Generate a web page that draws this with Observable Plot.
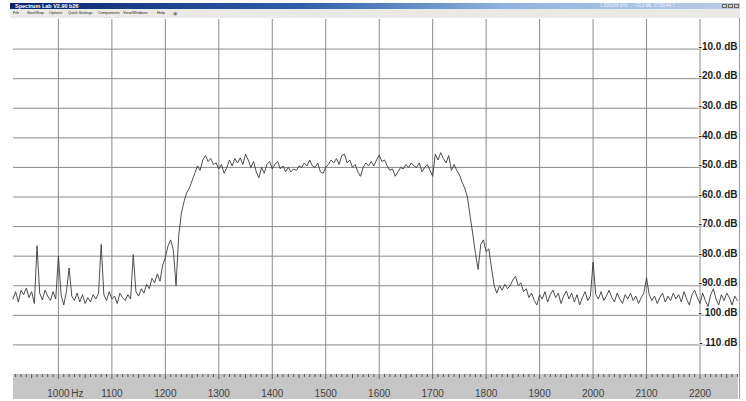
<!DOCTYPE html>
<html>
<head>
<meta charset="utf-8">
<script src="https://cdn.jsdelivr.net/npm/d3@7"></script>
<script src="https://cdn.jsdelivr.net/npm/@observablehq/plot@0.6"></script>
<style>
  html, body { margin: 0; padding: 0; background: #fff; }
  #win { position: relative; width: 746px; height: 401px; overflow: hidden; background: #fff; font-family: "Liberation Sans", Arial, sans-serif; }
  #titlebar { position: absolute; left: 10px; top: 3px; width: 730px; height: 6px;
    background: linear-gradient(to right, #0a246a 0%, #2f5fa8 40%, #8fb4e0 68%, #b9cde6 100%);
    color: #fff; font: bold 5.5px "Liberation Sans", Arial, sans-serif; line-height: 6px; white-space: nowrap; }
  #titlebar .t { position: absolute; left: 5px; top: 0; }
  #titlebar .s { position: absolute; left: 590px; top: 0; color: #eef3fa; font-weight: normal; font-size: 4.5px; }
  #titlebar .b { position: absolute; top: 1px; width: 5px; height: 4px; background: #d4d0c8; border: 0.5px solid #666; box-sizing: border-box; }
  #menubar { position: absolute; left: 10px; top: 9px; width: 730px; height: 9px; background: #ebe9e3;
    font: 3.8px "Liberation Sans", Arial, sans-serif; line-height: 9px; color: #222; white-space: nowrap; }
  #menubar span { position: absolute; top: 0; }
  #chart { position: absolute; left: 0; top: 18px; width: 746px; height: 383px; }
  #strip { position: absolute; left: 13px; top: 356px; width: 725px; height: 25px; background: #c6c6c6; }
  #rborder { position: absolute; left: 739px; top: 0; width: 1px; height: 381px; background: #9a9a9a; }
  #plot { position: absolute; left: 0; top: 0; }
</style>
</head>
<body>
<div id="win">
  <div id="titlebar">
    <span class="t">Spectrum Lab V2.90 b26</span>
    <span class="s">1.000048 kHz ... -73.2 dB, 17:00:44.7</span>
    <span class="b" style="left:712px"></span><span class="b" style="left:718px"></span><span class="b" style="left:724px"></span>
  </div>
  <div id="menubar">
    <span style="left:3px">File</span>
    <span style="left:17px">Start/Stop</span>
    <span style="left:39px">Options</span>
    <span style="left:58px">Quick Settings</span>
    <span style="left:88px">Components</span>
    <span style="left:113px">View/Windows</span>
    <span style="left:147px">Help</span>
    <span style="left:163px;color:#777;font-size:5px">&#9673;</span>
  </div>
  <div id="chart">
    <div id="strip"></div>
    <div id="plot"></div>
    <div id="rborder"></div>
  </div>
</div>
<script>
// ---- Data (frequency in Hz, level in dB) ----
const freqHz = [
  915, 920, 925, 930, 935, 940, 945, 950, 955, 960,
  965, 970, 975, 980, 985, 990, 995, 1000, 1005, 1010,
  1015, 1020, 1025, 1030, 1035, 1040, 1045, 1050, 1055, 1060,
  1065, 1070, 1075, 1080, 1085, 1090, 1095, 1100, 1105, 1110,
  1115, 1120, 1125, 1130, 1135, 1140, 1145, 1150, 1155, 1160,
  1165, 1170, 1175, 1180, 1185, 1190, 1195, 1200, 1205, 1210,
  1215, 1220, 1225, 1230, 1235, 1240, 1245, 1250, 1255, 1260,
  1265, 1270, 1275, 1280, 1285, 1290, 1295, 1300, 1305, 1310,
  1315, 1320, 1325, 1330, 1335, 1340, 1345, 1350, 1355, 1360,
  1365, 1370, 1375, 1380, 1385, 1390, 1395, 1400, 1405, 1410,
  1415, 1420, 1425, 1430, 1435, 1440, 1445, 1450, 1455, 1460,
  1465, 1470, 1475, 1480, 1485, 1490, 1495, 1500, 1505, 1510,
  1515, 1520, 1525, 1530, 1535, 1540, 1545, 1550, 1555, 1560,
  1565, 1570, 1575, 1580, 1585, 1590, 1595, 1600, 1605, 1610,
  1615, 1620, 1625, 1630, 1635, 1640, 1645, 1650, 1655, 1660,
  1665, 1670, 1675, 1680, 1685, 1690, 1695, 1700, 1705, 1710,
  1715, 1720, 1725, 1730, 1735, 1740, 1745, 1750, 1755, 1760,
  1765, 1770, 1775, 1780, 1785, 1790, 1795, 1800, 1805, 1810,
  1815, 1820, 1825, 1830, 1835, 1840, 1845, 1850, 1855, 1860,
  1865, 1870, 1875, 1880, 1885, 1890, 1895, 1900, 1905, 1910,
  1915, 1920, 1925, 1930, 1935, 1940, 1945, 1950, 1955, 1960,
  1965, 1970, 1975, 1980, 1985, 1990, 1995, 2000, 2005, 2010,
  2015, 2020, 2025, 2030, 2035, 2040, 2045, 2050, 2055, 2060,
  2065, 2070, 2075, 2080, 2085, 2090, 2095, 2100, 2105, 2110,
  2115, 2120, 2125, 2130, 2135, 2140, 2145, 2150, 2155, 2160,
  2165, 2170, 2175, 2180, 2185, 2190, 2195, 2200, 2205, 2210,
  2215, 2220, 2225, 2230, 2235, 2240, 2245, 2250, 2255, 2260,
  2265, 2270
];
const levelDb = [
  -94.5, -92, -95.5, -91.5, -93, -90.8, -94, -92, -96, -76.5,
  -92.5, -94.8, -91.5, -93.5, -95, -92, -94.5, -80, -93, -96.5,
  -92, -84, -93.5, -95, -92.5, -95.5, -93, -96, -94, -95.5,
  -93, -94.5, -92.5, -76, -93, -95, -92, -94.5, -93.5, -96,
  -92.5, -94, -95, -93, -94.5, -79.5, -92, -93.5, -91, -92.5,
  -89.5, -91, -87.5, -89, -86, -88.5, -83, -80.5, -76.5, -74.5,
  -78, -90, -73, -65.5, -61.5, -58.5, -57, -54.5, -52, -49.5,
  -51, -47.5, -46, -48, -47, -49, -48.5, -50.5, -49, -52,
  -50, -47.5, -49.5, -47, -48.5, -46.8, -49, -45.5, -47.5, -50,
  -48, -51.5, -53.5, -50, -52, -49, -48, -50.5, -49, -48,
  -50.5, -49.5, -51.5, -50, -51.5, -50.5, -51, -49.5, -50, -48.5,
  -49.5, -47.5, -49.5, -50, -48.5, -51.5, -52, -50, -49, -47.5,
  -48.5, -47, -49, -46, -45.5, -48.5, -47.5, -50, -49, -51.5,
  -53, -50, -48.5, -49.5, -48, -49.5, -47.5, -45.8, -48, -47.5,
  -49.5, -51, -50.5, -53, -51.5, -50, -50.5, -49, -50, -48.5,
  -49.5, -50, -48.5, -51.5, -50, -49, -51, -53, -45.5, -47.5,
  -45, -47, -48.5, -46, -51, -49, -51, -52.5, -55, -57,
  -60, -66.5, -72.5, -79, -84.5, -76, -74.5, -78.5, -77.5, -84,
  -90, -92.5, -90, -91.5, -89.5, -91, -90, -88, -86.8, -90,
  -89, -92, -91, -94, -92.5, -95, -96.5, -93, -94.5, -92,
  -95.5, -93, -91.5, -94, -92.5, -96, -93.5, -91.8, -94.5, -92.5,
  -95.5, -93, -96.5, -94, -92, -95, -93.5, -82, -93, -94.5,
  -92, -95, -93.5, -91.5, -94, -95.5, -92.5, -94.5, -96, -93,
  -94.5, -92.5, -95, -93.5, -96, -94, -92.5, -87.3, -93, -95,
  -93.5, -96, -94, -92.5, -95.5, -93.5, -95, -92.5, -94.5, -93,
  -95.5, -92, -94.5, -96.5, -93, -91.5, -94, -96, -92.5, -95,
  -97, -93, -91, -94.5, -96.5, -93, -95, -92.5, -94, -96.5,
  -93.5, -95
];
const xTickValues = [1000, 1100, 1200, 1300, 1400, 1500, 1600, 1700, 1800, 1900, 2000, 2100, 2200];
const xTickLabels = ["1000", "1100", "1200", "1300", "1400", "1500", "1600", "1700", "1800", "1900", "2000", "2100", "2200"];
const xUnitLabel = ["Hz"];
const yTickValues = [-10, -20, -30, -40, -50, -60, -70, -80, -90, -100, -110];
const yTickLabels = ["-10.0 dB", "-20.0 dB", "-30.0 dB", "-40.0 dB", "-50.0 dB", "-60.0 dB", "-70.0 dB", "-80.0 dB", "-90.0 dB", "- 100 dB", "- 110 dB"];
const freqDomain = [916, 2272];
const levelDomain = [-120, 0];

// ---- Build table ----
const spectrum = freqHz.map((f, i) => ({f, db: levelDb[i]}));
const minorTicks = d3.range(920, 2271, 10).filter(v => v % 50 !== 0);
const midTicks = d3.range(950, 2271, 100);

const FONT = "Liberation Sans, Arial, sans-serif";
const yLabelStyle = {y: d => d, text: (d, i) => yTickLabels[i], frameAnchor: "right", textAnchor: "end", lineAnchor: "middle", dx: -1, dy: -2.5, fontSize: 10, fontWeight: "bold", fontFamily: FONT};

const chart = Plot.plot({
  width: 746,
  height: 383,
  marginTop: 1,
  marginBottom: 27,
  marginLeft: 13,
  marginRight: 8,
  style: {background: "transparent", fontFamily: FONT, overflow: "visible"},
  x: {type: "linear", domain: freqDomain},
  y: {type: "linear", domain: levelDomain, axis: null},
  marks: [
    Plot.ruleY(yTickValues, {y: d => d, stroke: "#8a8a8a", strokeWidth: 1}),
    Plot.ruleX(xTickValues, {x: d => d, stroke: "#8a8a8a", strokeWidth: 1}),
    Plot.line(spectrum, {x: "f", y: "db", stroke: "#3a3a3a", strokeWidth: 0.9}),
    Plot.axisX({ticks: minorTicks, tickSize: 3, tickFormat: () => "", stroke: "#555", label: null}),
    Plot.axisX({ticks: midTicks, tickSize: 4, tickFormat: () => "", stroke: "#555", label: null}),
    Plot.axisX({ticks: xTickValues, tickSize: 5, tickFormat: () => "", stroke: "#666", label: null}),
    Plot.text(xTickValues, {x: d => d, text: (d, i) => xTickLabels[i], frameAnchor: "bottom", lineAnchor: "bottom", dy: 22, fontSize: 10, fill: "#444", fontFamily: FONT}),
    Plot.text([xTickValues[0]], {x: d => d, text: () => xUnitLabel[0], frameAnchor: "bottom", lineAnchor: "bottom", textAnchor: "start", dx: 12.8, dy: 22, fontSize: 10, fill: "#444", fontFamily: FONT}),
    // white halo underneath, then the label itself on top
    Plot.text(yTickValues, {...yLabelStyle, fill: "white", stroke: "white", strokeWidth: 2}),
    Plot.text(yTickValues, {...yLabelStyle, fill: "#1e1e1e"})
  ]
});
document.getElementById("plot").appendChild(chart);
</script>
</body>
</html>
